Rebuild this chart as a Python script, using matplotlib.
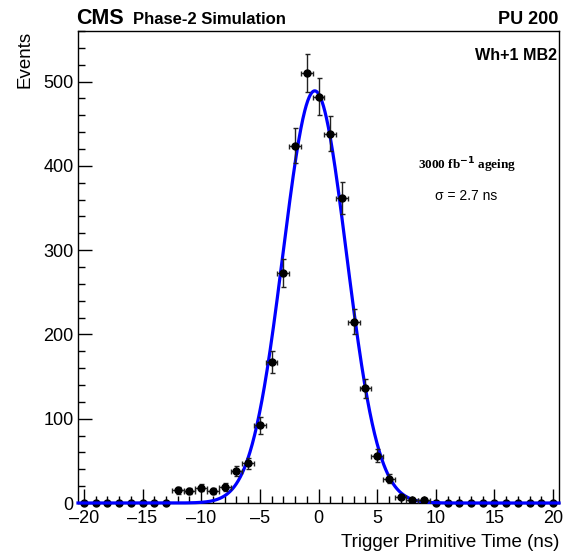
import numpy as np
import matplotlib
matplotlib.use("Agg")
import matplotlib.pyplot as plt
from matplotlib.ticker import MultipleLocator, FuncFormatter

plt.rcParams['font.family'] = ['Liberation Sans', 'DejaVu Sans']

# Data: bin centres (ns) and event counts
bin_centers = list(range(-20, 21))
counts = [0, 0, 0, 0, 0, 0, 0, 0,          # -20 .. -13
          15, 14, 18, 14, 19, 38, 47, 92,  # -12 .. -5
          167, 273, 424, 510, 482, 438, 362, 215,  # -4 .. 3
          136, 56, 29, 7, 3, 4,            # 4 .. 9
          0, 0, 0, 0, 0, 0, 0, 0, 0, 0, 0]  # 10 .. 20

# Gaussian fit parameters
fit_amp = 489.0
fit_mean = -0.32
fit_sigma = 2.7

x = np.array(bin_centers, dtype=float)
y = np.array(counts, dtype=float)

fig = plt.figure(figsize=(5.75, 5.54), dpi=100)
ax = fig.add_axes([78/575, 51/554, (559-78)/575, (503-31)/554])

# Fit curve
xf = np.linspace(-20.5, 20.5, 1000)
yf = fit_amp * np.exp(-0.5 * ((xf - fit_mean) / fit_sigma) ** 2)
ax.plot(xf, yf, color='#0000ff', lw=2.3, zorder=3, clip_on=False)

# Data points
nz = y > 0
ax.errorbar(x[nz], y[nz], yerr=np.sqrt(y[nz]), xerr=0.5, fmt='o', color='black',
             ms=5, elinewidth=1.0, capsize=1.8, capthick=1.0, zorder=4, ecolor='#222222')
ax.plot(x[~nz], y[~nz], 'o', color='black', ms=5, zorder=2, clip_on=False)

ax.set_xlim(-20.5, 20.5)
ax.set_ylim(0, 560)
ax.xaxis.set_major_locator(MultipleLocator(5))
ax.xaxis.set_minor_locator(MultipleLocator(1))
ax.yaxis.set_major_locator(MultipleLocator(100))
ax.yaxis.set_minor_locator(MultipleLocator(20))
ax.xaxis.set_major_formatter(FuncFormatter(lambda v, p: ('\u2013' + str(int(abs(v)))) if v < 0 else str(int(v))))
ax.tick_params(which='both', direction='in', labelsize=13, top=False, right=False)
ax.tick_params(which='major', length=10, width=1)
ax.tick_params(which='minor', length=5, width=1)
ax.tick_params(axis='x', pad=5)
ax.tick_params(axis='y', pad=3)
for s in ax.spines.values():
    s.set_linewidth(1.0)

ax.set_xlabel('Trigger Primitive Time (ns)', fontsize=13.5, loc='right', labelpad=5)
ax.set_ylabel('Events', fontsize=13.5, loc='top', labelpad=7)

# Header
fig.text(76/575, 1 - 24/554, 'CMS', fontsize=15.5, fontweight='bold', ha='left', va='baseline')
fig.text(133/575, 1 - 24/554, 'Phase-2 Simulation', fontsize=12, fontweight='bold', ha='left', va='baseline')
fig.text(558/575, 1 - 24/554, 'PU 200', fontsize=13, fontweight='bold', ha='right', va='baseline')
ax.text(0.995, 0.965, 'Wh+1 MB2', transform=ax.transAxes, fontsize=11.6, fontweight='bold',
        ha='right', va='top')

# Annotations
ax.text(12.7, 401, r'3000 fb$^{\mathbf{-1}}$ ageing', fontsize=9.5, fontweight='bold',
        family=['Liberation Serif', 'DejaVu Serif'], ha='center', va='center')
ax.text(12.6, 364, 'σ = 2.7 ns', fontsize=10, ha='center', va='center')

fig.savefig('out.png', dpi=100)
